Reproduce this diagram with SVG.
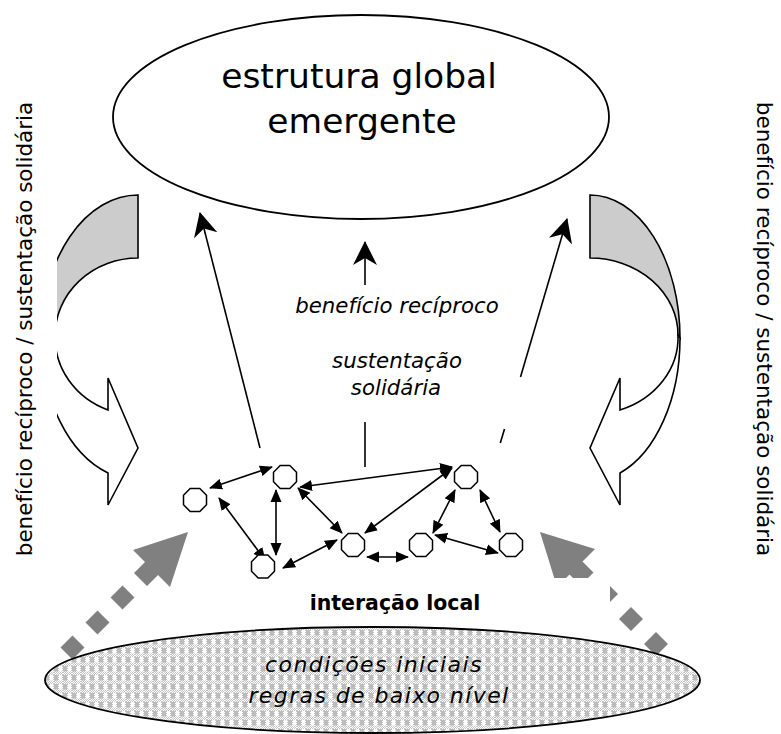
<svg xmlns="http://www.w3.org/2000/svg" xmlns:xlink="http://www.w3.org/1999/xlink" width="781" height="734" viewBox="0 0 781 734">
<style>
.t{font-family:"DejaVu Sans","Verdana",sans-serif;fill:#000}
.it{font-style:italic}
.ln{stroke:#000;stroke-width:1.6;fill:none}
.dbl{marker-start:url(#ah);marker-end:url(#ah)}
.big{marker-end:url(#bh)}
.oct{fill:#fff;stroke:#000;stroke-width:1.5}
.band{stroke:#000;stroke-width:1.6;stroke-linejoin:miter}
.dot{fill:#808080}
</style>
<defs>
<marker id="ah" markerUnits="userSpaceOnUse" markerWidth="14" markerHeight="12" viewBox="0 0 14 12" refX="12" refY="6" orient="auto-start-reverse"><path d="M0,0.5 L13,6 L0,11.5 Z" fill="#000"/></marker>
<marker id="bh" markerUnits="userSpaceOnUse" markerWidth="25" markerHeight="25" viewBox="0 0 25 25" refX="23" refY="12.5" orient="auto"><path d="M0,0.5 L24,12.5 L0,24.5 L7,12.5 Z" fill="#000"/></marker>
<polygon id="oct" points="11.5,4.8 4.8,11.5 -4.8,11.5 -11.5,4.8 -11.5,-4.8 -4.8,-11.5 4.8,-11.5 11.5,-4.8"/>
<pattern id="fine" width="2" height="2" patternUnits="userSpaceOnUse"><rect width="2" height="2" fill="#fff"/><rect width="1" height="1" fill="#c4c4c4"/><rect x="1" y="1" width="1" height="1" fill="#c4c4c4"/></pattern>
<pattern id="chk" width="9" height="9" patternUnits="userSpaceOnUse"><rect width="9" height="9" fill="url(#fine)"/><rect x="0" y="0" width="4" height="5.5" fill="#bcbcbc"/><rect x="5" y="0" width="3" height="5.5" fill="#fff"/></pattern>
<clipPath id="clipL"><rect x="57" y="0" width="200" height="734"/></clipPath>
<clipPath id="clipBox"><path clip-rule="evenodd" d="M0,0H781V734H0Z M240,578H610V622H240Z"/></clipPath>
</defs>
<rect width="781" height="734" fill="#fff"/>

<g id="global">
<ellipse cx="361" cy="117" rx="248" ry="102" fill="#fff" stroke="#000" stroke-width="1.8"/>
<text class="t" x="359" y="88" font-size="34.5" text-anchor="middle">estrutura global</text>
<text class="t" x="362" y="133" font-size="34.5" text-anchor="middle">emergente</text>
</g>

<g id="side-left">
<text class="t" font-size="21.5" text-anchor="middle" transform="translate(32,329) rotate(-90)">benefício recíproco / sustentação solidária</text>
</g>
<g id="side-right">
<text class="t" font-size="21.5" text-anchor="middle" transform="translate(757,329) rotate(90)">benefício recíproco / sustentação solidária</text>
</g>

<g id="curve-left" clip-path="url(#clipL)">
<path class="band" fill="#cccccc" d="M138,195 A96.5,142.5 0 0 0 41.5,337.5 L55,336 A83,78 0 0 1 138,258 Z"/>
<path class="band" fill="#fff" d="M41.5,337.5 A96.5,142.5 0 0 0 108,473 L108,505 L138,448 L108,378 L108,410 A83,78 0 0 1 55,336 Z"/>
</g>
<g id="curve-right">
<path class="band" fill="#cccccc" d="M590,195 A90,143 0 0 1 680,338 L678,335 A88,77 0 0 0 590,258 Z"/>
<path class="band" fill="#fff" d="M680,338 A90,143 0 0 1 620,473 L620,505 L590,448 L620,378 L620,410 A88,77 0 0 0 678,335 Z"/>
</g>

<g id="labels-mid">
<text class="t it" x="397" y="313" font-size="21.3" text-anchor="middle">benefício recíproco</text>
<text class="t it" x="397" y="368" font-size="21.3" text-anchor="middle">sustentação</text>
<text class="t it" x="396" y="395" font-size="21.3" text-anchor="middle">solidária</text>
</g>

<g id="connectors">
<line class="ln big" x1="260" y1="448" x2="200" y2="213"/>
<line class="ln big" x1="520.5" y1="377" x2="567" y2="219"/>
<line class="ln" x1="504.5" y1="429" x2="500.3" y2="443"/>
<line class="ln big" x1="365" y1="285" x2="365" y2="242"/>
<line class="ln" x1="365" y1="422" x2="365" y2="467"/>
<line class="ln dbl" x1="210" y1="488" x2="272" y2="467"/>
<line class="ln dbl" x1="219" y1="498" x2="265" y2="560"/>
<line class="ln dbl" x1="276" y1="490" x2="276" y2="555"/>
<line class="ln dbl" x1="298" y1="488" x2="342" y2="533"/>
<line class="ln dbl" x1="283" y1="568" x2="337" y2="540"/>
<line class="ln dbl" x1="300" y1="487" x2="452" y2="467"/>
<line class="ln dbl" x1="452" y1="468" x2="365" y2="533"/>
<line class="ln dbl" x1="367" y1="557" x2="408" y2="557"/>
<line class="ln dbl" x1="455" y1="490" x2="433" y2="533"/>
<line class="ln dbl" x1="480" y1="490" x2="500" y2="532"/>
<line class="ln dbl" x1="435" y1="535" x2="498" y2="553"/>
</g>

<g id="n1"><use href="#oct" x="195" y="500" class="oct"/></g>
<g id="n2"><use href="#oct" x="285" y="477" class="oct"/></g>
<g id="n3"><use href="#oct" x="263" y="566.5" class="oct"/></g>
<g id="n4"><use href="#oct" x="353" y="545" class="oct"/></g>
<g id="n5"><use href="#oct" x="421" y="545" class="oct"/></g>
<g id="n6"><use href="#oct" x="466" y="477" class="oct"/></g>
<g id="n7"><use href="#oct" x="511" y="545" class="oct"/></g>

<g id="dotted-left">
<polygon class="dot" points="188,532 170,587 158,575 147,586 134,573 145,562 133,550"/>
<polygon class="dot" points="110.5,597.5 122.5,585.5 134.5,597.5 122.5,609.5"/>
<polygon class="dot" points="85.5,622.5 97.5,610.5 109.5,622.5 97.5,634.5"/>
<polygon class="dot" points="60.5,647.5 72.5,635.5 84.5,647.5 72.5,659.5"/>
</g>
<g id="dotted-right" clip-path="url(#clipBox)">
<polygon class="dot" points="540,532 595,549 582.5,561.5 593.5,572.5 580.5,585.5 569.5,574.5 557,587"/>
<polygon class="dot" points="594,594 606,582 618,594 606,606"/>
<polygon class="dot" points="619,619 631,607 643,619 631,631"/>
<polygon class="dot" points="644,644 656,632 668,644 656,656"/>
</g>

<g id="local">
<text class="t" x="395" y="610" font-size="20.5" font-weight="bold" text-anchor="middle">interação local</text>
</g>

<g id="base">
<ellipse cx="372.5" cy="680" rx="327.5" ry="53" fill="url(#chk)" stroke="#000" stroke-width="1.8"/>
<text class="t it" x="374" y="672" font-size="22" letter-spacing="1.4" text-anchor="middle" fill="#111">condições iniciais</text>
<text class="t it" x="379" y="703" font-size="22" letter-spacing="1.4" text-anchor="middle" fill="#111">regras de baixo nível</text>
</g>
</svg>
